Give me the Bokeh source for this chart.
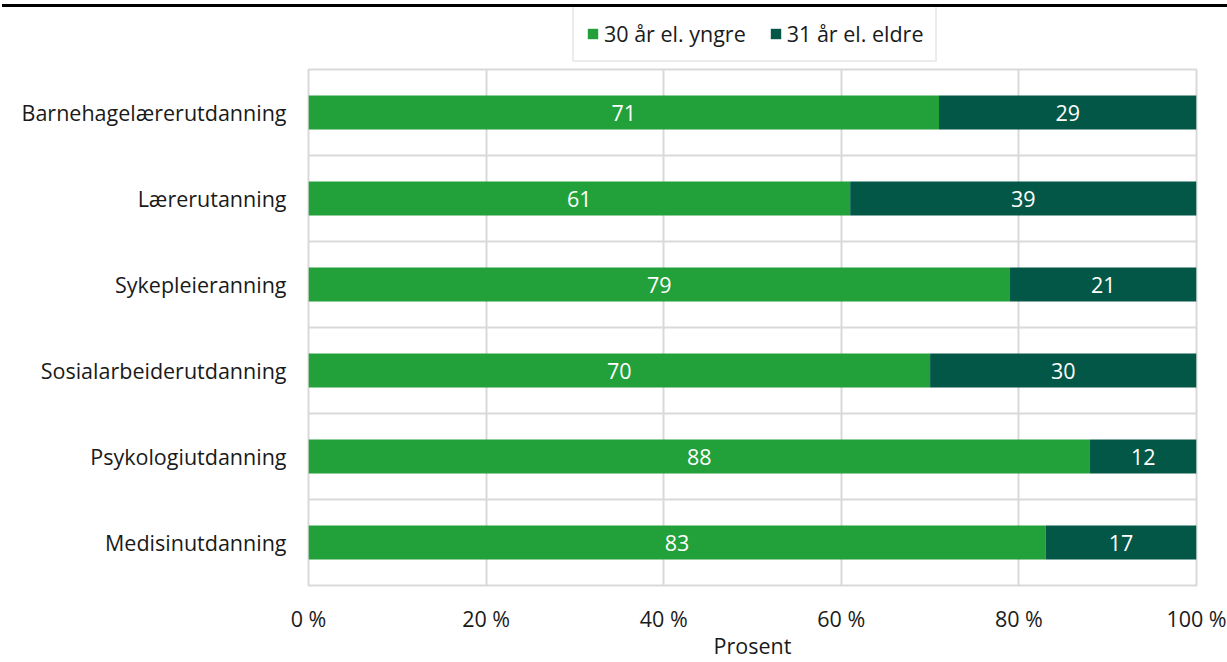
from bokeh.plotting import figure
from bokeh.models import (Range1d, FixedTicker, CustomJSTickFormatter, Legend, LegendItem,
                          ColumnDataSource, Div)
from bokeh.layouts import column
from bokeh.core.properties import value
from bokeh.embed import file_html
from bokeh.resources import INLINE

categories = ["Barnehagelærerutdanning", "Lærerutanning", "Sykepleieranning",
              "Sosialarbeiderutdanning", "Psykologiutdanning", "Medisinutdanning"]
young = [71, 61, 79, 70, 88, 83]
old = [29, 39, 21, 30, 12, 17]
series_names = ["30 år el. yngre", "31 år el. eldre"]
x_ticks = [0, 20, 40, 60, 80, 100]

GREEN = "#22A03A"
DARK = "#035746"
GRID = "#d9d9d9"
FONT = "Open Sans"
TXT = "#1a1a1a"
FS = "21.5px"

n = len(categories)
ypos = [n - 0.5 - i for i in range(n)]
old_left = young[:]
old_right = [a + b for a, b in zip(young, old)]

src = ColumnDataSource(dict(
    y=ypos, young=young, old=old, zero=[0] * n, old_left=old_left, old_right=old_right,
    ylab=[str(v) for v in young], olab=[str(v) for v in old],
    ymid=[v / 2 for v in young], omid=[a + b / 2 for a, b in zip(young, old)],
))

# ---------------- main chart ----------------
p = figure(width=1227, height=595, output_backend="svg", toolbar_location=None,
           x_range=Range1d(0, 100), y_range=Range1d(0, n),
           min_border_left=308, min_border_right=31, min_border_top=2, min_border_bottom=74,
           margin=0)
p.outline_line_color = GRID
p.outline_line_width = 2
p.background_fill_color = "white"
p.border_fill_color = "white"

r1 = p.hbar(y="y", left="zero", right="young", height=0.393, source=src,
            fill_color=GREEN, line_color=None)
r2 = p.hbar(y="y", left="old_left", right="old_right", height=0.393, source=src,
            fill_color=DARK, line_color=None)

p.text(x="ymid", y="y", text="ylab", source=src, text_align="center", text_baseline="middle",
       text_color="white", text_font=value(FONT), text_font_size=FS)
p.text(x="omid", y="y", text="olab", source=src, text_align="center", text_baseline="middle",
       text_color="white", text_font=value(FONT), text_font_size=FS)

p.xgrid.ticker = FixedTicker(ticks=x_ticks)
p.ygrid.ticker = FixedTicker(ticks=list(range(n + 1)))
for g in (p.xgrid, p.ygrid):
    g.grid_line_color = GRID
    g.grid_line_width = 2

xa = p.xaxis[0]
xa.ticker = FixedTicker(ticks=x_ticks)
xa.formatter = CustomJSTickFormatter(code="return tick + ' %';")
xa.axis_label = "Prosent"
xa.axis_line_color = None
xa.major_tick_line_color = None
xa.minor_tick_line_color = None
xa.major_tick_out = 0
xa.major_tick_in = 0
xa.major_label_standoff = 18
xa.axis_label_standoff = -5
xa.major_label_text_font = FONT
xa.major_label_text_font_size = FS
xa.major_label_text_color = TXT
xa.axis_label_text_font = FONT
xa.axis_label_text_font_size = FS
xa.axis_label_text_font_style = "normal"
xa.axis_label_text_color = TXT

ya = p.yaxis[0]
ya.ticker = FixedTicker(ticks=ypos)
ya.formatter = CustomJSTickFormatter(args=dict(labels=categories, n=n),
                                     code="const i = Math.round(n - 0.5 - tick); return labels[i] || '';")
ya.axis_line_color = None
ya.major_tick_line_color = None
ya.minor_tick_line_color = None
ya.major_tick_out = 0
ya.major_tick_in = 0
ya.major_label_standoff = 22
ya.major_label_text_font = FONT
ya.major_label_text_font_size = FS
ya.major_label_text_color = TXT

# ---------------- legend strip (frame aligned with main frame) ----------------
lg = figure(width=1227, height=60, output_backend="svg", toolbar_location=None,
            x_axis_type=None, y_axis_type=None,
            x_range=Range1d(0, 100), y_range=Range1d(100, 101),
            min_border_left=0, min_border_right=0, min_border_top=0, min_border_bottom=0,
            margin=0)
lg.outline_line_color = None
lg.background_fill_color = "white"
lg.border_fill_color = "white"
# same series, drawn outside this strip's visible range: only their legend swatches show
l1 = lg.hbar(y="y", left="zero", right="young", height=0.393, source=src,
             fill_color=GREEN, line_color=None)
l2 = lg.hbar(y="y", left="old_left", right="old_right", height=0.393, source=src,
             fill_color=DARK, line_color=None)

legend = Legend(items=[LegendItem(label=series_names[0], renderers=[l1]),
                       LegendItem(label=series_names[1], renderers=[l2])],
                orientation="horizontal", location=(264, 5))
legend.label_text_font = FONT
legend.label_text_font_size = FS
legend.label_text_color = TXT
legend.label_height = 24
legend.glyph_height = 13
legend.glyph_width = 13
legend.label_standoff = 5
legend.spacing = 23
legend.padding = 12
legend.margin = 0
legend.border_line_color = GRID
legend.border_line_width = 2
legend.background_fill_color = "white"
lg.add_layout(legend)

top_rule = Div(text="", width=1225, height=3, margin=(4, 0, 0, 2),
               styles={"background-color": "#000000"})

layout = column(top_rule, lg, p, spacing=0)

open("out.html", "w").write(file_html(layout, INLINE))
